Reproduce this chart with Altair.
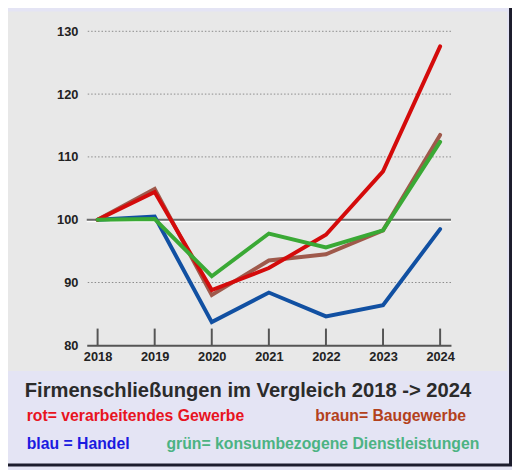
import altair as alt
import pandas as pd

years = [2018, 2019, 2020, 2021, 2022, 2023, 2024]
rot = [100.0, 104.4, 88.8, 92.3, 97.6, 107.7, 127.6]      # verarbeitendes Gewerbe
braun = [100.0, 104.9, 88.0, 93.5, 94.5, 98.3, 113.5]     # Baugewerbe
blau = [100.0, 100.5, 83.7, 88.4, 84.6, 86.4, 98.5]       # Handel
gruen = [100.0, 100.1, 91.0, 97.8, 95.6, 98.3, 112.4]     # konsumbezogene Dienstleistungen
grid_values = [90, 110, 120, 130]
y_ticks = [80, 90, 100, 110, 120, 130]

title_text = "Firmenschließungen im Vergleich 2018 -> 2024"
legend_texts = [
    ("rot= verarbeitendes Gewerbe", "#e8141f"),
    ("braun= Baugewerbe", "#b3411c"),
    ("blau = Handel", "#1b1be0"),
    ("grün= konsumbezogene Dienstleistungen", "#4cb383"),
]

FONT = "Liberation Sans"
W, H = 370, 319
xscale = alt.Scale(domain=[2017.81, 2024.19], nice=False, zero=False)
yscale = alt.Scale(domain=[80, 130], nice=False, zero=False)

xaxis = alt.Axis(values=years, format="d", grid=False, ticks=False,
                 domainColor="#555555", domainWidth=2, labelPadding=5,
                 labelFont=FONT, labelFontSize=13, labelFontWeight="bold",
                 labelColor="#222222", zindex=1)
yaxis = alt.Axis(values=y_ticks, grid=False, ticks=False, domain=False,
                 labelPadding=9, labelFont=FONT, labelFontSize=13,
                 labelFontWeight="bold", labelColor="#222222", zindex=1)

def X(field):
    return alt.X(field, scale=xscale, title=None, axis=xaxis)

def Y(field):
    return alt.Y(field, scale=yscale, title=None, axis=yaxis)

one = alt.Data(values=[{"a": 1}])

panel = alt.Chart(one).mark_rect(color="#e8e8e8").encode(
    x=alt.value(-80), x2=alt.value(427), y=alt.value(-20), y2=alt.value(345)
)
border = alt.Chart(one).mark_rect(fill=None, stroke="#1c1c2c", strokeWidth=3).encode(
    x=alt.value(-90), x2=alt.value(430.5), y=alt.value(-30), y2=alt.value(440.5)
)

grid = alt.Chart(pd.DataFrame({"v": grid_values})).mark_rule(
    color="#8a8a8a", strokeWidth=1, strokeDash=[1.5, 2]
).encode(y=Y("v:Q"))

line100w = alt.Chart(pd.DataFrame({"v": [100]})).mark_rule(
    color="#ffffff", strokeWidth=1.2, yOffset=2
).encode(y=Y("v:Q"))
line100 = alt.Chart(pd.DataFrame({"v": [100]})).mark_rule(
    color="#6a6a6a", strokeWidth=2
).encode(y=Y("v:Q"))

ticks = alt.Chart(pd.DataFrame({"year": years})).mark_rule(
    color="#555555", strokeWidth=2
).encode(
    x=X("year:Q"),
    y=alt.value(302), y2=alt.value(319),
)

def series(vals, color):
    df = pd.DataFrame({"year": years, "v": vals})
    return alt.Chart(df).mark_line(color=color, strokeWidth=4, strokeCap="round").encode(
        x=X("year:Q"),
        y=Y("v:Q"),
    )

lines = [
    series(blau, "#1150a2"),
    series(braun, "#9f594b"),
    series(rot, "#d40b0b"),
    series(gruen, "#3aa935"),
]

def label(text, color, x, y, size):
    return alt.Chart(one).mark_text(
        text=text, color=color, font=FONT, fontSize=size, fontWeight="bold",
        align="left", baseline="alphabetic",
    ).encode(x=alt.value(x), y=alt.value(y))

texts = [label(title_text, "#2b2b2b", -63, 371, 20.5)]
positions = [(-61, 396), (232, 396), (-61, 424), (81, 424)]
for (t, c), (px, py) in zip(legend_texts, positions):
    texts.append(label(t, c, px, py, 16))

chart = alt.layer(
    panel, grid, line100w, line100, ticks, *lines, border, *texts
).properties(
    width=W, height=H,
    background="#e4e4f4",
    padding={"left": 80, "top": 20, "right": 62, "bottom": 123},
    autosize=alt.AutoSizeParams(type="none"),
).configure_view(stroke=None)

chart.save("out.html", embed_options={"renderer": "svg", "actions": False})
